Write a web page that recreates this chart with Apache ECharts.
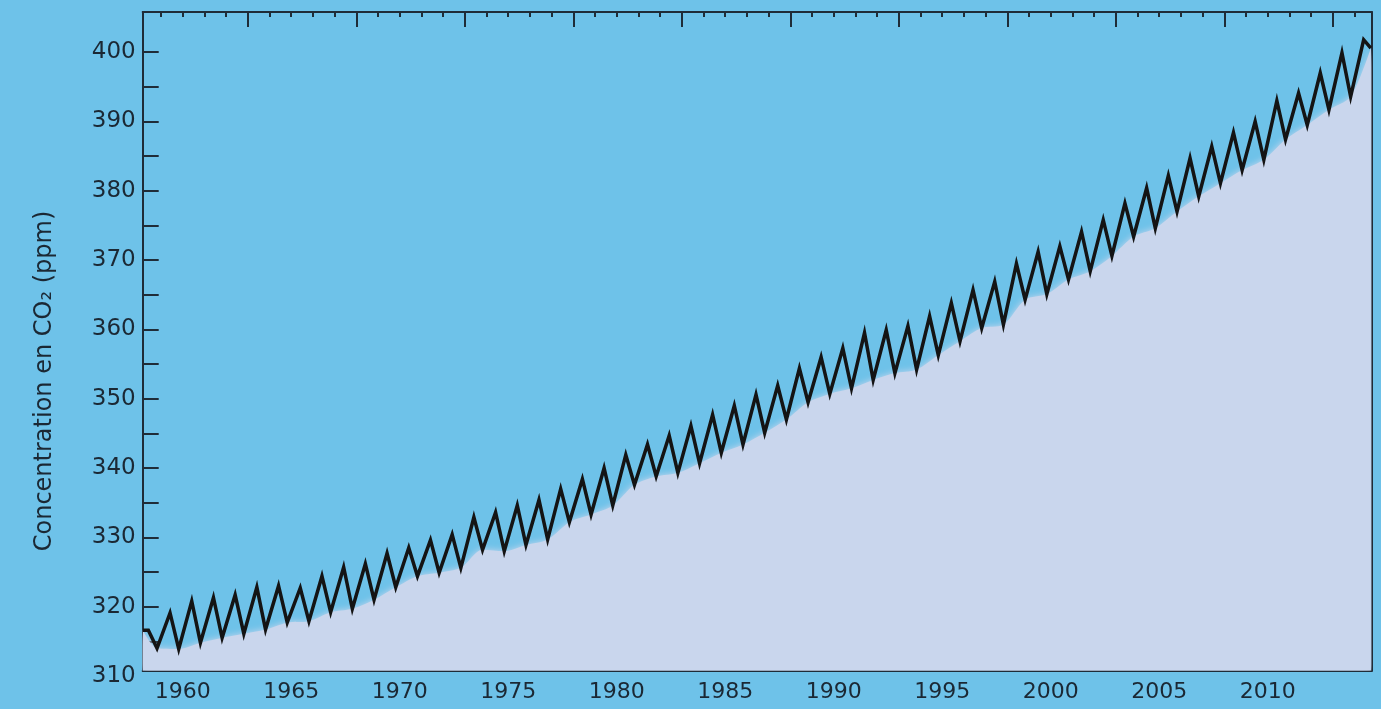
<!DOCTYPE html>
<html>
<head>
<meta charset="utf-8">
<title>Concentration en CO₂</title>
<script src="https://cdn.jsdelivr.net/npm/echarts@6/dist/echarts.min.js"></script>
<style>
  html, body { margin: 0; padding: 0; background: #6ec2e9; }
  #chart { width: 1381px; height: 709px; }
</style>
</head>
<body>
<div id="chart"></div>
<script>
// Monthly record summarised by its seasonal extremes (ppm).
const firstYear = 1958;
// May–June maxima, 1958 … 2014
const peakValues = [
  316.6, 319.1, 320.8, 321.3, 321.7, 322.8, 323.0, 322.7, 324.4, 325.7,
  326.2, 327.7, 328.5, 329.6, 330.4, 332.9, 333.6, 334.6, 335.4, 337.0,
  338.4, 340.0, 341.9, 343.4, 344.7, 346.1, 347.7, 349.0, 350.6, 351.9,
  354.4, 356.0, 357.3, 359.5, 359.9, 360.5, 361.9, 363.8, 365.7, 366.9,
  369.5, 371.2, 372.0, 374.1, 375.8, 378.2, 380.4, 382.2, 384.7, 386.4,
  388.4, 390.0, 393.0, 394.1, 397.0, 399.9, 401.8
];
// October minima, 1958 … 2013
const troughValues = [
  314.0, 313.9, 314.8, 315.5, 316.1, 316.7, 317.7, 317.9, 319.2, 319.7,
  321.0, 322.8, 324.4, 324.9, 325.6, 328.2, 328.0, 328.9, 329.7, 332.2,
  333.3, 334.6, 337.6, 338.8, 339.3, 340.7, 342.2, 343.4, 345.1, 347.0,
  349.5, 350.7, 351.5, 352.7, 353.7, 354.2, 356.3, 358.3, 360.2, 360.7,
  364.3, 365.1, 367.2, 368.4, 370.6, 373.4, 374.6, 377.0, 379.2, 381.1,
  383.0, 384.5, 387.4, 389.5, 391.7, 393.6
];
// First and last monthly readings [decimal year, ppm]
const seriesStart = [1958.17, 316.6];
const seriesEnd = [2014.75, 400.6];

// Tick labels
const xTickLabels = [1960, 1965, 1970, 1975, 1980, 1985, 1990, 1995, 2000, 2005, 2010];
const yTickLabels = [310, 320, 330, 340, 350, 360, 370, 380, 390, 400];

// Position of the seasonal extremes within the year
const PEAK_PHASE = 0.42;
const TROUGH_PHASE = 0.82;

const curve = [seriesStart];
peakValues.forEach(function (p, i) {
  const yr = firstYear + i;
  curve.push([yr + PEAK_PHASE, p]);
  if (i < troughValues.length) curve.push([yr + TROUGH_PHASE, troughValues[i]]);
});
curve.push(seriesEnd);

// Lower envelope used for the pale band under the curve
const envelope = [seriesStart]
  .concat(troughValues.map(function (t, i) { return [firstYear + i + TROUGH_PHASE, t]; }))
  .concat([seriesEnd]);

// Layout of the frame
const W = 1381, H = 709;
const LEFT = 142.7, RIGHT = W - 1371.7, TOP = 12, BOTTOM_FRAME = H - 670.7;
const X_MIN = 1958.16, X_MAX = 2014.79;
const Y_MAX = 405.8, Y_LABEL_MIN = 310;
const BOTTOM_LABELS = H - 676;
const pxPerPpm = (H - BOTTOM_LABELS - TOP) / (Y_MAX - Y_LABEL_MIN);
const Y_MIN = Y_MAX - (H - BOTTOM_FRAME - TOP) / pxPerPpm;

const INK = '#1f2c38';
const TEXT = '#1b2834';
const FILL = '#c9d6ed';
const FONT = 'DejaVu Sans';

const years = [];
for (let y = 1959; y <= 2014; y++) years.push(y);
const topMajor = [];
for (let y = 1963; y <= 2014; y += 5) topMajor.push(y);
const yTicks = [];
for (let v = 315; v <= 400; v += 5) yTicks.push(v);

function xAxisBase(pos, extra) {
  return Object.assign({
    type: 'value', gridIndex: 0, position: pos, min: X_MIN, max: X_MAX,
    splitLine: { show: false },
    axisLine: { show: false },
    axisLabel: { show: false },
    axisTick: { show: false }
  }, extra);
}

const chart = echarts.init(document.getElementById('chart'), null, { renderer: 'canvas' });
chart.setOption({
  backgroundColor: '#6ec2e9',
  animation: false,
  grid: [
    { left: LEFT, right: RIGHT, top: TOP, bottom: BOTTOM_FRAME, containLabel: false },
    { left: LEFT, right: RIGHT, top: TOP, bottom: BOTTOM_LABELS, containLabel: false }
  ],
  xAxis: [
    xAxisBase('bottom', {
      axisLine: { show: true, onZero: false, lineStyle: { color: INK, width: 2 } },
      axisTick: { show: true, inside: true, length: 15, customValues: xTickLabels, lineStyle: { color: INK, width: 2 } },
      axisLabel: {
        show: true, customValues: xTickLabels, margin: 11,
        color: TEXT, fontFamily: FONT, fontSize: 22,
        formatter: function (v) { return String(Math.round(v)); }
      }
    }),
    xAxisBase('bottom', {
      axisTick: { show: true, inside: true, length: 5, customValues: years, lineStyle: { color: INK, width: 2 } }
    }),
    xAxisBase('top', {
      axisLine: { show: true, onZero: false, lineStyle: { color: INK, width: 2 } },
      axisTick: { show: true, inside: true, length: 15, customValues: topMajor, lineStyle: { color: INK, width: 2 } }
    }),
    xAxisBase('top', {
      axisTick: { show: true, inside: true, length: 5, customValues: years, lineStyle: { color: INK, width: 2 } }
    }),
    { type: 'value', gridIndex: 1, min: X_MIN, max: X_MAX, show: false }
  ],
  yAxis: [
    {
      type: 'value', gridIndex: 0, position: 'left', min: Y_MIN, max: Y_MAX,
      splitLine: { show: false },
      axisLine: { show: true, onZero: false, lineStyle: { color: INK, width: 2 } },
      axisTick: { show: true, inside: true, length: 16, customValues: yTicks, lineStyle: { color: INK, width: 2 } },
      axisLabel: { show: false }
    },
    {
      type: 'value', gridIndex: 0, position: 'right', min: Y_MIN, max: Y_MAX,
      splitLine: { show: false },
      axisLine: { show: true, onZero: false, lineStyle: { color: INK, width: 2 } },
      axisTick: { show: false },
      axisLabel: { show: false }
    },
    {
      type: 'value', gridIndex: 1, position: 'left', min: Y_LABEL_MIN, max: Y_MAX,
      splitLine: { show: false },
      axisLine: { show: false },
      axisTick: { show: false },
      axisLabel: {
        show: true, customValues: yTickLabels, margin: 7,
        color: TEXT, fontFamily: FONT, fontSize: 23,
        formatter: function (v) { return String(Math.round(v)); }
      }
    }
  ],
  graphic: [{
    type: 'text',
    x: 45, y: 381,
    rotation: Math.PI / 2,
    silent: true,
    style: {
      text: 'Concentration en CO₂ (ppm)',
      fill: TEXT,
      font: '24px "DejaVu Sans"',
      align: 'center',
      verticalAlign: 'middle'
    }
  }],
  series: [
    {
      name: 'enveloppe',
      type: 'line',
      xAxisIndex: 0, yAxisIndex: 0,
      data: envelope,
      symbol: 'none',
      smooth: 0.3,
      silent: true,
      z: 1,
      lineStyle: { width: 0, color: FILL },
      areaStyle: { color: FILL, origin: 'start', opacity: 1, shadowBlur: 7, shadowColor: FILL }
    },
    {
      name: 'CO₂',
      type: 'line',
      xAxisIndex: 0, yAxisIndex: 0,
      data: curve,
      symbol: 'none',
      z: 3,
      lineStyle: { color: '#141414', width: 3.5, join: 'miter' }
    }
  ]
});
</script>
</body>
</html>
